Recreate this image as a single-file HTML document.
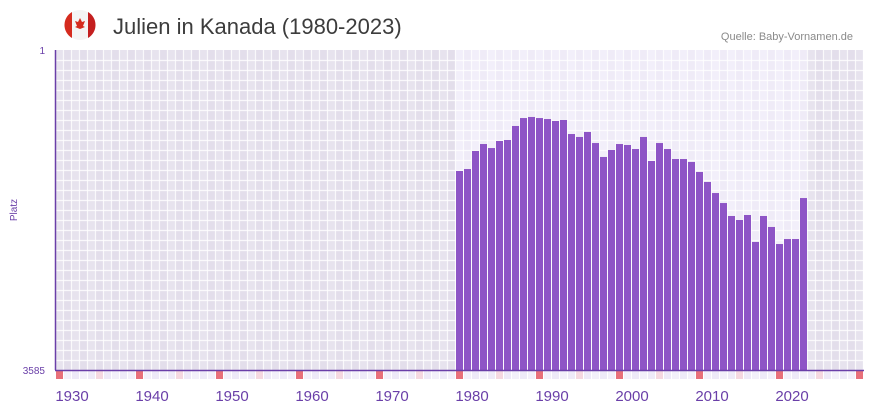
<!DOCTYPE html>
<html><head><meta charset="utf-8"><style>
body{margin:0;background:#fff;width:873px;height:412px;overflow:hidden;font-family:"Liberation Sans",sans-serif}
</style></head><body>
<svg width="873" height="412" xmlns="http://www.w3.org/2000/svg">
<g>
<circle cx="80" cy="25" r="15" fill="#f4f4f4"/>
<path d="M72 12 A15 15 0 0 0 72 38 Z" fill="#d52b1e"/>
<path d="M88 12 A15 15 0 0 1 88 38 Z" fill="#c41f1f"/>
<polygon points="80,18 82,22 85,21 83,26 85,27 80,29 75,27 77,26 75,21 78,22" fill="#d52b1e"/>
</g>
<text x="113" y="34" font-size="22" fill="#3c3c3c">Julien in Kanada (1980-2023)</text>
<text x="853" y="40" font-size="11" fill="#8a8a8a" text-anchor="end">Quelle: Baby-Vornamen.de</text>
<text transform="translate(17,210) rotate(-90)" font-size="10" fill="#6a3fa8" text-anchor="middle">Platz</text>
<text x="45" y="54" font-size="10" fill="#6a3fa8" text-anchor="end">1</text>
<text x="45" y="374" font-size="10" fill="#6a3fa8" text-anchor="end">3585</text>
<g id="grid"></g>
<g id="bars"></g>
<g id="strip"></g>
<g id="xlabels"></g>
<line x1="55.5" y1="50" x2="55.5" y2="370" stroke="#6a3fa8" stroke-width="1.5"/>
<line x1="55" y1="370.5" x2="864" y2="370.5" stroke="#6a3fa8" stroke-width="1.5"/>
</svg>
<script>
const years=[];for(let y=1980;y<=2023;y++)years.push(y);
const ranks=[1356,1334,1132,1054,1099,1020,1009,852,763,751,763,774,796,785,942,975,919,1043,1199,1121,1054,1065,1110,975,1244,1043,1110,1222,1222,1255,1367,1479,1603,1715,1860,1905,1849,2151,1860,1983,2174,2118,2118,1659];
const tickYears=[1930,1940,1950,1960,1970,1980,1990,2000,2010,2020];
const maxRank=3585,startYear=1930,endYear=2030;
const NS="http://www.w3.org/2000/svg";
const xOf=y=>56+(y-startYear)*8;
const yOf=r=>50+(r-1)/(maxRank-1)*320;
function mk(t,a,p){const e=document.createElementNS(NS,t);for(const k in a)e.setAttribute(k,a[k]);p.appendChild(e);return e;}
const grid=document.getElementById('grid');
for(let y=startYear;y<=endYear;y++){
 const inData=y>=1980&&y<=2023;
 const c=mk('rect',{x:xOf(y)-1,y:50,width:8,height:320,fill:inData?(y%2?'#efebf7':'#f2effa'):(y%2?'#e3deeb':'#e7e3ee')},grid);
 
 
}
for(let x=55;x<=864;x+=8){const l=mk('line',{x1:x+0.5,y1:50,x2:x+0.5,y2:370,stroke:'#fff','stroke-width':1.2,opacity:0.8},grid);}
for(let yy=60;yy<370;yy+=10){const l=mk('line',{x1:55,y1:yy+0.5,x2:864,y2:yy+0.5,stroke:'#fff','stroke-width':1.2,opacity:0.8},grid);}
const bars=document.getElementById('bars');
years.forEach((yr,i)=>{const t=yOf(ranks[i]);const b=mk('rect',{x:xOf(yr),y:t,width:7,height:370-t,fill:'#8e55c6'},bars);

});
const strip=document.getElementById('strip');
for(let y=startYear;y<=endYear;y++){
 const col=y%10===0?'#e8707a':(y%5===0?'#f5d8e0':(y%2?'#f3f0fa':'#eeeaf8'));
 const s=mk('rect',{x:xOf(y),y:371,width:7,height:8,fill:col},strip);
 
 
}
const xl=document.getElementById('xlabels');
tickYears.forEach(y=>{const t=mk('text',{x:xOf(y)+16,y:401,'font-size':15,fill:'#6a3fa8','text-anchor':'middle'},xl);t.textContent=y;

});
</script>
</body></html>
